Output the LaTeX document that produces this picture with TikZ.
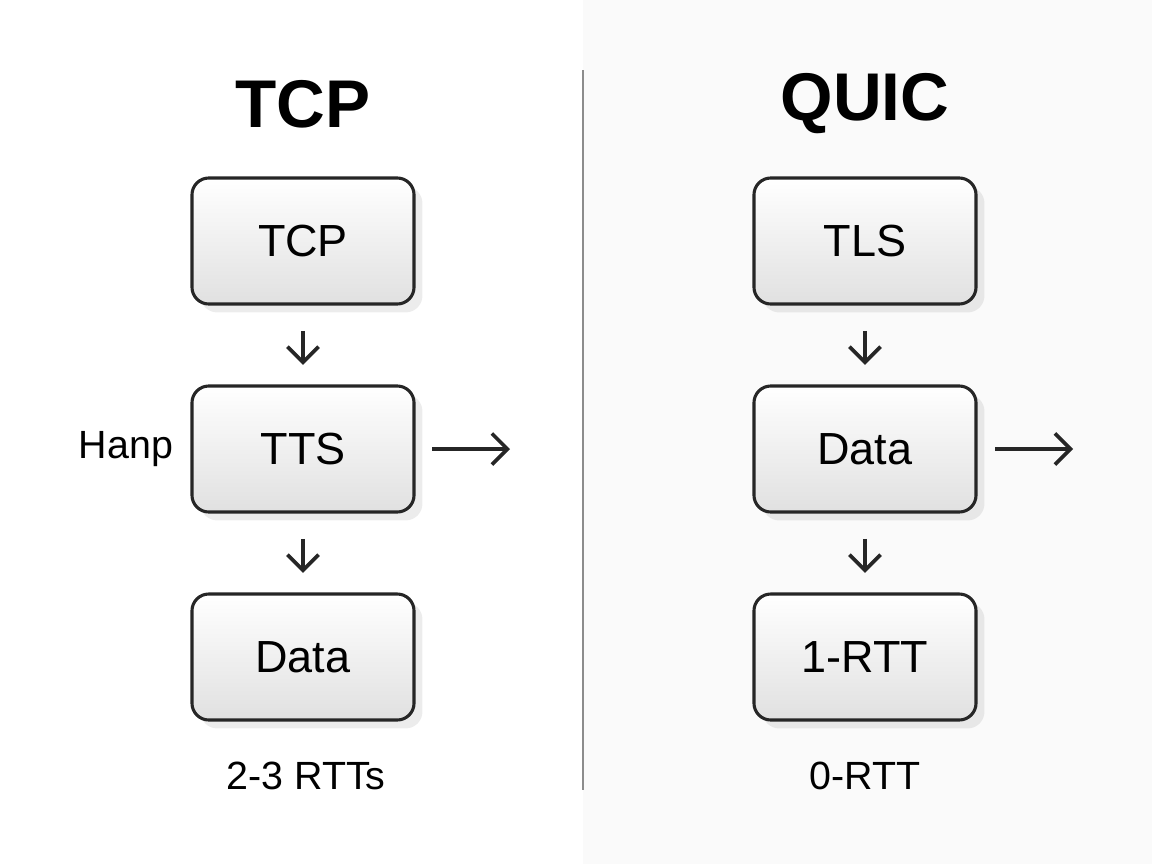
\documentclass[tikz,border=0pt]{standalone}
\usepackage{fontspec}
\setmainfont{Liberation Sans}
\usetikzlibrary{positioning,shadows,arrows.meta}
\begin{document}
\begin{tikzpicture}[x=0.025cm,y=-0.025cm,
  stepbox/.style = {draw=black!85, line width=2.2pt, rounded corners=12pt,
    minimum width=5.55cm, minimum height=3.15cm, top color=white, bottom color=black!12,
    drop shadow={shadow xshift=6pt, shadow yshift=-6pt, opacity=0.15},
    font=\fontsize{32}{36}\selectfont},
  title/.style = {font=\fontsize{48}{54}\selectfont\bfseries},
  note/.style = {font=\fontsize{28}{32}\selectfont},
  flow/.style = {->, line width=2.6pt, black!85, >={Straight Barb[length=11pt,width=22pt]}}]
	\useasboundingbox (0,0) rectangle (1152,864);
	\fill[black!2] (583,0) rectangle (1152,864);
	\draw[black!45, line width=1.5pt] (583,70) -- (583,790);
	% TCP side
	\node[title] (tcpT) at (303,104) {TCP};
	\node[stepbox] (tcp) at (303,241) {TCP};
	\node[stepbox] (tts) at (303,449) {TTS};
	\node[stepbox] (data1) at (303,657) {Data};
	\node[note] (hand) at (126,449) {Hanp};
	\node[note] (rtt2) at (306,776) {2-3 RTTs};
	\coordinate (h1) at (432,449);
	\coordinate (h2) at (510,449);
	\draw[flow] ([yshift=-18pt]tcp.south) -- ([yshift=14pt]tts.north);
	\draw[flow] ([yshift=-18pt]tts.south) -- ([yshift=14pt]data1.north);
	\draw[flow] (h1) -- (h2);
	% QUIC side
	\node[title] (quicT) at (865,104) {QUIC};
	\node[stepbox] (tls) at (865,241) {TLS};
	\node[stepbox] (data2) at (865,449) {Data};
	\node[stepbox] (rtt1) at (865,657) {1-RTT};
	\node[note] (rtt0) at (865,776) {0-RTT};
	\coordinate (q1) at (995,449);
	\coordinate (q2) at (1073,449);
	\draw[flow] ([yshift=-18pt]tls.south) -- ([yshift=14pt]data2.north);
	\draw[flow] ([yshift=-18pt]data2.south) -- ([yshift=14pt]rtt1.north);
	\draw[flow] (q1) -- (q2);
\end{tikzpicture}
\end{document}
